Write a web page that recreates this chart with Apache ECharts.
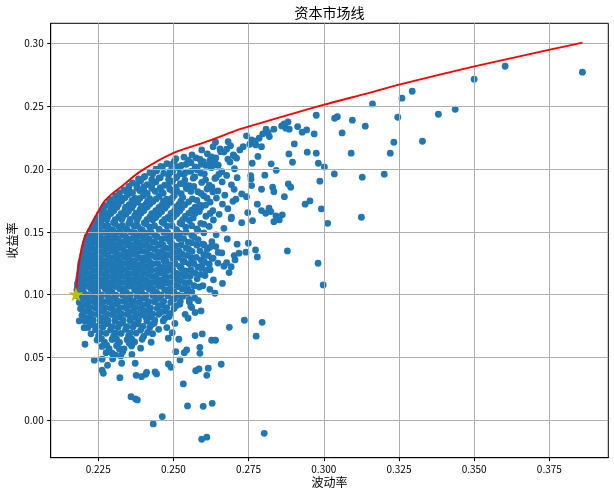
<!DOCTYPE html>
<html>
<head>
<meta charset="utf-8">
<script src="https://cdn.jsdelivr.net/npm/echarts@6/dist/echarts.min.js"></script>
<style>html,body{margin:0;padding:0;background:#fff}#c{width:614px;height:496px}</style>
</head>
<body>
<div id="c"></div>
<script>
// ---- data ----
const titleText = '资本市场线';
const xName = '波动率';
const yName = '收益率';
const xTicks = [0.225, 0.250, 0.275, 0.300, 0.325, 0.350, 0.375];
const yTicks = [0.00, 0.05, 0.10, 0.15, 0.20, 0.25, 0.30];

// efficient frontier (volatility, return)
const frontierVol = [0.2176,0.2178,0.2182,0.2188,0.2199,0.2217,0.2245,0.2270,0.2295,0.2330,0.2389,0.2499,0.2610,0.2721,0.2749,0.2998,0.3154,0.3247,0.3497,0.3752,0.3860];
const frontierRet = [0.1003,0.1064,0.1180,0.1276,0.1409,0.1515,0.1640,0.1740,0.1800,0.1865,0.1979,0.2126,0.2218,0.2317,0.2338,0.2510,0.2608,0.2670,0.2815,0.2950,0.3006];

// minimum-volatility portfolio (star)
const starVol = [0.2176];
const starRet = [0.1003];

// simulated portfolios: dense cloud, part A [vol, ret]
const denseCloudA = [
[0.2535,0.2095],[0.2562,0.2112],[0.2588,0.2078],[0.2613,0.2121],[0.2641,0.2088],[0.2668,0.2135],[0.2702,0.2104],[0.2655,0.2160],[0.2690,0.2185],
[0.2478,0.2043],[0.2503,0.2061],[0.2527,0.2029],[0.2558,0.2052],[0.2592,0.2037],[0.2621,0.2068],[0.2649,0.2031],[0.2688,0.2056],
[0.2442,0.1998],[0.2463,0.2015],[0.2489,0.1981],[0.2518,0.2007],[0.2541,0.1975],[0.2579,0.1994],[0.2626,0.2011],[0.2661,0.1979],[0.2703,0.2002],
[0.2405,0.1942],[0.2431,0.1961],[0.2452,0.1928],[0.2484,0.1953],[0.2509,0.1931],[0.2535,0.1958],[0.2571,0.1937],[0.2603,0.1962],[0.2638,0.1925],[0.2677,0.1949],[0.2712,0.1931],
[0.2364,0.1889],[0.2391,0.1905],[0.2413,0.1876],[0.2442,0.1898],[0.2471,0.1871],[0.2497,0.1902],[0.2523,0.1884],[0.2552,0.1868],[0.2594,0.1893],[0.2619,0.1871],[0.2662,0.1897],[0.2693,0.1874],
[0.2336,0.1834],[0.2353,0.1822],[0.2379,0.1851],[0.2402,0.1829],[0.2428,0.1846],[0.2461,0.1817],[0.2488,0.1839],[0.2512,0.1823],[0.2543,0.1844],[0.2581,0.1819],[0.2612,0.1841],[0.2648,0.1826],[0.2702,0.1838],
[0.2308,0.1786],[0.2324,0.1772],[0.2348,0.1796],[0.2371,0.1768],[0.2399,0.1788],[0.2421,0.1765],[0.2452,0.1782],[0.2478,0.1761],[0.2503,0.1790],[0.2531,0.1773],[0.2563,0.1762],[0.2601,0.1786],[0.2643,0.1769],[0.2671,0.1792],
[0.2288,0.1738],[0.2305,0.1722],[0.2328,0.1745],[0.2353,0.1716],[0.2381,0.1737],[0.2408,0.1719],[0.2432,0.1741],[0.2461,0.1713],[0.2489,0.1734],[0.2518,0.1718],[0.2551,0.1739],[0.2589,0.1712],[0.2622,0.1736],[0.2663,0.1721],[0.2698,0.1743],
[0.2268,0.1689],[0.2291,0.1672],[0.2312,0.1695],[0.2338,0.1668],[0.2362,0.1691],[0.2389,0.1674],[0.2413,0.1697],[0.2441,0.1669],[0.2472,0.1688],[0.2503,0.1664],[0.2528,0.1692],[0.2561,0.1673],[0.2592,0.1695],[0.2631,0.1668],[0.2681,0.1684],
[0.2254,0.1638],[0.2272,0.1621],[0.2292,0.1645],[0.2318,0.1619],[0.2342,0.1641],[0.2371,0.1626],[0.2393,0.1649],[0.2422,0.1618],[0.2451,0.1637],[0.2482,0.1615],[0.2511,0.1642],[0.2539,0.1622],[0.2572,0.1646],[0.2608,0.1624],[0.2652,0.1639],[0.2693,0.1617],
[0.2243,0.1591],[0.2258,0.1572],[0.2279,0.1596],[0.2301,0.1574],[0.2328,0.1598],[0.2352,0.1569],[0.2379,0.1592],[0.2403,0.1571],[0.2431,0.1596],[0.2462,0.1578],[0.2491,0.1599],[0.2522,0.1571],[0.2553,0.1591],[0.2591,0.1568],[0.2633,0.1594],
[0.2231,0.1538],[0.2248,0.1521],[0.2271,0.1545],[0.2293,0.1518],[0.2318,0.1542],[0.2341,0.1524],[0.2369,0.1547],[0.2392,0.1519],[0.2421,0.1539],[0.2452,0.1522],[0.2479,0.1546],[0.2509,0.1517],[0.2541,0.1538],[0.2578,0.1524],[0.2619,0.1543],[0.2668,0.1528],
[0.2220,0.1488],[0.2238,0.1471],[0.2262,0.1494],[0.2286,0.1469],[0.2309,0.1491],[0.2333,0.1473],[0.2359,0.1497],[0.2382,0.1468],[0.2411,0.1489],[0.2438,0.1472],[0.2468,0.1495],[0.2493,0.1467],[0.2522,0.1488],[0.2561,0.1471],[0.2601,0.1492],[0.2642,0.1476],
[0.2211,0.1439],[0.2234,0.1418],[0.2259,0.1443],[0.2281,0.1421],[0.2303,0.1445],[0.2329,0.1416],[0.2352,0.1439],[0.2378,0.1422],[0.2401,0.1446],[0.2432,0.1419],[0.2461,0.1441],[0.2488,0.1424],[0.2518,0.1447],[0.2549,0.1418],[0.2582,0.1438],[0.2628,0.1421],[0.2679,0.1443],
[0.2206,0.1388],[0.2229,0.1371],[0.2254,0.1394],[0.2277,0.1369],[0.2301,0.1391],[0.2324,0.1373],[0.2348,0.1396],[0.2372,0.1368],[0.2399,0.1392],[0.2422,0.1374],[0.2451,0.1397],[0.2479,0.1369],[0.2508,0.1389],[0.2542,0.1372],[0.2578,0.1394],[0.2621,0.1377],
[0.2201,0.1341],[0.2224,0.1319],[0.2248,0.1344],[0.2271,0.1322],[0.2296,0.1346],[0.2318,0.1318],[0.2342,0.1339],[0.2368,0.1323],[0.2391,0.1347],[0.2419,0.1321],[0.2448,0.1342],[0.2472,0.1317],[0.2501,0.1338],[0.2529,0.1324],[0.2562,0.1345],[0.2601,0.1319],[0.2649,0.1336],
[0.2196,0.1288],[0.2219,0.1271],[0.2243,0.1294],[0.2268,0.1268],[0.2291,0.1291],[0.2314,0.1273],[0.2339,0.1296],[0.2362,0.1269],[0.2389,0.1292],[0.2412,0.1274],[0.2441,0.1297],[0.2469,0.1268],[0.2498,0.1289],[0.2531,0.1272],[0.2559,0.1294],[0.2592,0.1276],[0.2632,0.1291],
[0.2191,0.1238],[0.2214,0.1221],[0.2239,0.1244],[0.2261,0.1218],[0.2286,0.1241],[0.2309,0.1223],[0.2331,0.1246],[0.2358,0.1219],[0.2381,0.1238],[0.2409,0.1222],[0.2432,0.1245],[0.2461,0.1217],[0.2489,0.1239],[0.2521,0.1224],[0.2552,0.1247],[0.2581,0.1221],[0.2619,0.1242],[0.2668,0.1226],
[0.2189,0.1188],[0.2211,0.1171],[0.2236,0.1193],[0.2258,0.1169],[0.2281,0.1191],[0.2306,0.1174],[0.2329,0.1196],[0.2352,0.1168],[0.2379,0.1189],[0.2402,0.1172],[0.2428,0.1194],[0.2459,0.1171],[0.2482,0.1192],[0.2511,0.1169],[0.2541,0.1189],[0.2572,0.1173],[0.2609,0.1195],
[0.2186,0.1138],[0.2209,0.1121],[0.2233,0.1143],[0.2256,0.1118],[0.2279,0.1141],[0.2303,0.1124],[0.2328,0.1146],[0.2354,0.1119],[0.2378,0.1139],[0.2401,0.1122],[0.2429,0.1144],[0.2451,0.1117],[0.2479,0.1138],[0.2512,0.1123],[0.2539,0.1145],[0.2579,0.1126],
[0.2181,0.1088],[0.2204,0.1071],[0.2229,0.1093],[0.2254,0.1068],[0.2278,0.1091],[0.2301,0.1073],[0.2326,0.1096],[0.2351,0.1069],[0.2374,0.1089],[0.2399,0.1072],[0.2424,0.1094],[0.2452,0.1068],[0.2478,0.1091],[0.2509,0.1074],[0.2538,0.1092],[0.2569,0.1071],
[0.2179,0.1036],[0.2201,0.1022],[0.2226,0.1044],[0.2249,0.1019],[0.2274,0.1041],[0.2296,0.1023],[0.2321,0.1046],[0.2344,0.1018],[0.2371,0.1039],[0.2394,0.1021],[0.2419,0.1043],[0.2444,0.1017],[0.2471,0.1038],[0.2502,0.1024],[0.2529,0.1045],[0.2561,0.1021],
[0.2183,0.0988],[0.2206,0.0972],[0.2231,0.0993],[0.2256,0.0969],[0.2281,0.0991],[0.2304,0.0974],[0.2331,0.0996],[0.2354,0.0968],[0.2379,0.0989],[0.2406,0.0972],[0.2431,0.0994],[0.2456,0.0971],[0.2481,0.0992],[0.2503,0.0968],[0.2532,0.0988],[0.2571,0.0973],
[0.2187,0.0938],[0.2211,0.0921],[0.2236,0.0943],[0.2261,0.0918],[0.2284,0.0941],[0.2309,0.0924],[0.2336,0.0946],[0.2359,0.0919],[0.2386,0.0939],[0.2411,0.0922],[0.2437,0.0944],[0.2462,0.0917],[0.2491,0.0938],[0.2521,0.0923],[0.2553,0.0941],
[0.2191,0.0888],[0.2216,0.0871],[0.2241,0.0893],[0.2266,0.0869],[0.2291,0.0891],[0.2316,0.0873],[0.2341,0.0896],[0.2366,0.0868],[0.2391,0.0889],[0.2417,0.0872],[0.2446,0.0891],[0.2471,0.0868],[0.2502,0.0889],
[0.2196,0.0836],[0.2221,0.0821],[0.2246,0.0843],[0.2271,0.0818],[0.2296,0.0841],[0.2321,0.0823],[0.2346,0.0844],[0.2371,0.0819],[0.2396,0.0839],[0.2422,0.0822],[0.2451,0.0843],[0.2486,0.0826],
[0.2206,0.0788],[0.2231,0.0771],[0.2256,0.0792],[0.2281,0.0769],[0.2306,0.0791],[0.2331,0.0773],[0.2356,0.0794],[0.2381,0.0768],[0.2412,0.0789],[0.2436,0.0772],[0.2466,0.0791],
[0.2216,0.0738],[0.2241,0.0721],[0.2266,0.0743],[0.2291,0.0719],[0.2316,0.0741],[0.2341,0.0723],[0.2366,0.0744],[0.2391,0.0718],[0.2421,0.0739],[0.2451,0.0724],
[0.2226,0.0688],[0.2251,0.0671],[0.2276,0.0692],[0.2301,0.0669],[0.2326,0.0691],[0.2351,0.0673],[0.2376,0.0694],[0.2401,0.0668],[0.2431,0.0689],
[0.2246,0.0638],[0.2271,0.0621],[0.2296,0.0643],[0.2321,0.0619],[0.2346,0.0641],[0.2371,0.0623],[0.2396,0.0644],[0.2426,0.0621],
[0.2262,0.0588],[0.2286,0.0571],[0.2311,0.0593],[0.2336,0.0569],[0.2361,0.0591],[0.2391,0.0574],
[0.2276,0.0538],[0.2306,0.0521],[0.2331,0.0543],[0.2362,0.0524],
[0.2598,0.1402],[0.2612,0.1361],[0.2641,0.1383],[0.2603,0.1312],[0.2628,0.1288],[0.2661,0.1332],[0.2597,0.1243],[0.2622,0.1198],[0.2648,0.1251],[0.2605,0.1152],[0.2633,0.1118],[0.2598,0.1071],[0.2621,0.1042],[0.2663,0.1089],[0.2685,0.1176],[0.2702,0.1311],[0.2712,0.1402],
[0.2594,0.2152],[0.2632,0.2178],[0.2640,0.2213],[0.2657,0.2138],[0.2677,0.2158],[0.2682,0.2218],[0.2699,0.2112],[0.2710,0.2086],[0.2721,0.2152],[0.2732,0.2178],[0.2599,0.2059],[0.2621,0.2033],[0.2644,0.2033],
[0.2478,0.0738],[0.2505,0.0771],[0.2539,0.0843],[0.2561,0.0897],[0.2583,0.0952],[0.2558,0.0905],[0.2572,0.0858],[0.2549,0.0812]
];

// simulated portfolios: dense cloud, part B (in-between points) [vol, ret]
const denseCloudB = [
[0.2508,0.2082],[0.2549,0.2071],[0.2575,0.2089],[0.2627,0.2096],[0.2681,0.2079],
[0.2458,0.2021],[0.2491,0.2034],[0.2514,0.2019],[0.2543,0.2038],[0.2572,0.2016],[0.2608,0.2029],[0.2638,0.2052],
[0.2422,0.1972],[0.2444,0.1985],[0.2468,0.1966],[0.2497,0.1979],[0.2522,0.1962],[0.2558,0.1981],[0.2591,0.1968],[0.2651,0.1958],
[0.2384,0.1921],[0.2402,0.1934],[0.2428,0.1915],[0.2456,0.1931],[0.2484,0.1918],[0.2511,0.1936],[0.2538,0.1912],[0.2566,0.1927],[0.2607,0.1914],[0.2642,0.1933],
[0.2352,0.1862],[0.2378,0.1875],[0.2401,0.1858],[0.2429,0.1877],[0.2456,0.1852],[0.2483,0.1871],[0.2509,0.1856],[0.2537,0.1879],[0.2568,0.1861],[0.2628,0.1856],
[0.2321,0.1809],[0.2341,0.1826],[0.2364,0.1811],[0.2388,0.1829],[0.2413,0.1805],[0.2439,0.1823],[0.2466,0.1808],[0.2497,0.1827],[0.2526,0.1804],[0.2558,0.1822],[0.2592,0.1806],[0.2631,0.1818],
[0.2294,0.1757],[0.2316,0.1749],[0.2339,0.1771],[0.2362,0.1748],[0.2388,0.1766],[0.2414,0.1744],[0.2443,0.1762],[0.2467,0.1747],[0.2496,0.1768],[0.2524,0.1742],[0.2578,0.1751],[0.2612,0.1768],
[0.2273,0.1708],[0.2294,0.1699],[0.2317,0.1718],[0.2341,0.1696],[0.2367,0.1714],[0.2394,0.1702],[0.2421,0.1719],[0.2452,0.1694],[0.2479,0.1712],[0.2508,0.1698],[0.2538,0.1716],[0.2572,0.1697],[0.2607,0.1713],
[0.2261,0.1662],[0.2279,0.1647],[0.2302,0.1668],[0.2326,0.1645],[0.2351,0.1664],[0.2376,0.1648],[0.2402,0.1669],[0.2428,0.1644],[0.2461,0.1662],[0.2492,0.1647],[0.2521,0.1666],[0.2551,0.1647],[0.2586,0.1661],[0.2622,0.1646],
[0.2247,0.1608],[0.2262,0.1598],[0.2281,0.1619],[0.2306,0.1596],[0.2331,0.1617],[0.2356,0.1599],[0.2384,0.1618],[0.2412,0.1597],[0.2441,0.1614],[0.2471,0.1598],[0.2501,0.1619],[0.2531,0.1596],[0.2566,0.1611],
[0.2238,0.1561],[0.2246,0.1541],[0.2259,0.1569],[0.2282,0.1547],[0.2306,0.1566],[0.2331,0.1549],[0.2356,0.1571],[0.2381,0.1546],[0.2409,0.1564],[0.2437,0.1549],[0.2468,0.1569],[0.2496,0.1548],[0.2528,0.1563],[0.2561,0.1549],[0.2601,0.1561],
[0.2224,0.1508],[0.2232,0.1496],[0.2253,0.1517],[0.2276,0.1495],[0.2298,0.1516],[0.2322,0.1499],[0.2346,0.1519],[0.2371,0.1494],[0.2397,0.1514],[0.2426,0.1498],[0.2453,0.1518],[0.2481,0.1496],[0.2511,0.1514],[0.2542,0.1497],[0.2581,0.1512],
[0.2213,0.1461],[0.2226,0.1447],[0.2248,0.1466],[0.2271,0.1444],[0.2294,0.1468],[0.2317,0.1446],[0.2341,0.1464],[0.2366,0.1449],[0.2391,0.1469],[0.2419,0.1444],[0.2446,0.1463],[0.2476,0.1448],[0.2503,0.1468],[0.2534,0.1446],[0.2568,0.1462],
[0.2207,0.1412],[0.2221,0.1396],[0.2243,0.1417],[0.2266,0.1395],[0.2291,0.1416],[0.2314,0.1398],[0.2338,0.1419],[0.2361,0.1394],[0.2386,0.1413],[0.2411,0.1399],[0.2438,0.1418],[0.2466,0.1394],[0.2494,0.1412],[0.2526,0.1397],[0.2561,0.1414],[0.2602,0.1396],
[0.2203,0.1362],[0.2216,0.1348],[0.2238,0.1366],[0.2261,0.1345],[0.2286,0.1368],[0.2309,0.1346],[0.2333,0.1364],[0.2356,0.1348],[0.2381,0.1369],[0.2408,0.1344],[0.2436,0.1363],[0.2463,0.1347],[0.2491,0.1367],[0.2519,0.1346],[0.2551,0.1362],[0.2588,0.1349],
[0.2198,0.1312],[0.2211,0.1297],[0.2233,0.1316],[0.2256,0.1295],[0.2281,0.1318],[0.2303,0.1296],[0.2327,0.1314],[0.2352,0.1298],[0.2376,0.1319],[0.2401,0.1294],[0.2428,0.1313],[0.2456,0.1298],[0.2483,0.1317],[0.2514,0.1296],[0.2546,0.1312],[0.2576,0.1297],[0.2616,0.1311],
[0.2193,0.1262],[0.2206,0.1248],[0.2229,0.1266],[0.2252,0.1245],[0.2276,0.1268],[0.2298,0.1246],[0.2321,0.1264],[0.2346,0.1248],[0.2371,0.1269],[0.2396,0.1244],[0.2421,0.1263],[0.2448,0.1247],[0.2476,0.1267],[0.2506,0.1246],[0.2536,0.1262],[0.2568,0.1248],[0.2603,0.1263],
[0.2190,0.1212],[0.2201,0.1197],[0.2226,0.1216],[0.2249,0.1195],[0.2272,0.1218],[0.2296,0.1196],[0.2319,0.1214],[0.2343,0.1198],[0.2368,0.1219],[0.2392,0.1194],[0.2418,0.1213],[0.2446,0.1197],[0.2471,0.1217],[0.2498,0.1196],[0.2526,0.1212],[0.2558,0.1198],[0.2592,0.1213],
[0.2187,0.1162],[0.2199,0.1148],[0.2222,0.1166],[0.2246,0.1145],[0.2269,0.1168],[0.2292,0.1146],[0.2317,0.1164],[0.2341,0.1148],[0.2366,0.1169],[0.2391,0.1144],[0.2416,0.1163],[0.2441,0.1147],[0.2468,0.1167],[0.2496,0.1146],[0.2526,0.1162],[0.2556,0.1148],[0.2591,0.1161],
[0.2184,0.1112],[0.2196,0.1097],[0.2219,0.1116],[0.2241,0.1095],[0.2266,0.1118],[0.2291,0.1096],[0.2314,0.1114],[0.2338,0.1098],[0.2363,0.1119],[0.2387,0.1094],[0.2411,0.1113],[0.2438,0.1097],[0.2466,0.1117],[0.2493,0.1096],[0.2523,0.1112],[0.2553,0.1098],
[0.2181,0.1062],[0.2192,0.1048],[0.2216,0.1066],[0.2238,0.1045],[0.2262,0.1068],[0.2286,0.1046],[0.2311,0.1064],[0.2334,0.1048],[0.2358,0.1069],[0.2384,0.1044],[0.2408,0.1063],[0.2432,0.1047],[0.2461,0.1067],[0.2489,0.1046],[0.2518,0.1062],[0.2548,0.1048],[0.2586,0.1061],
[0.2191,0.1012],[0.2214,0.0998],[0.2238,0.1016],[0.2261,0.0995],[0.2286,0.1018],[0.2309,0.0996],[0.2333,0.1014],[0.2357,0.0998],[0.2383,0.1019],[0.2408,0.0994],[0.2433,0.1013],[0.2459,0.0997],[0.2486,0.1017],[0.2516,0.0996],[0.2546,0.1012],
[0.2196,0.0962],[0.2219,0.0948],[0.2243,0.0966],[0.2268,0.0945],[0.2293,0.0968],[0.2318,0.0946],[0.2342,0.0964],[0.2367,0.0948],[0.2393,0.0969],[0.2418,0.0944],[0.2443,0.0963],[0.2468,0.0947],[0.2496,0.0967],[0.2523,0.0946],[0.2553,0.0962],
[0.2199,0.0912],[0.2223,0.0898],[0.2248,0.0916],[0.2273,0.0895],[0.2298,0.0918],[0.2323,0.0896],[0.2348,0.0914],[0.2373,0.0898],[0.2398,0.0919],[0.2424,0.0894],[0.2452,0.0913],[0.2478,0.0897],[0.2509,0.0912],
[0.2203,0.0862],[0.2228,0.0848],[0.2253,0.0866],[0.2278,0.0845],[0.2303,0.0868],[0.2328,0.0846],[0.2353,0.0864],[0.2378,0.0848],[0.2404,0.0869],[0.2431,0.0846],[0.2458,0.0862],[0.2489,0.0851],
[0.2209,0.0812],[0.2233,0.0798],[0.2258,0.0816],[0.2283,0.0795],[0.2308,0.0818],[0.2333,0.0796],[0.2358,0.0814],[0.2384,0.0798],[0.2409,0.0819],[0.2438,0.0797],[0.2471,0.0811],
[0.2228,0.0762],[0.2246,0.0748],[0.2271,0.0766],[0.2296,0.0745],[0.2321,0.0768],[0.2346,0.0746],[0.2371,0.0764],[0.2398,0.0747],[0.2428,0.0762],
[0.2258,0.0698],[0.2308,0.0695],[0.2358,0.0696],[0.2414,0.0699],
[0.2261,0.0648],[0.2311,0.0645],[0.2362,0.0646],
[0.2278,0.0598],[0.2353,0.0614],
[0.2321,0.0566]
];

// simulated portfolios: sparse outer points [vol, ret]
const outerPoints = [
[0.3162,0.2518],[0.3260,0.2564],[0.3294,0.2619],[0.3500,0.2715],[0.3603,0.2818],[0.3860,0.2771],[0.3246,0.2412],[0.3381,0.2436],[0.3437,0.2476],[0.3233,0.2213],[0.3328,0.2221],[0.3221,0.2126],[0.3201,0.1959],
[0.2975,0.2428],[0.3036,0.2404],[0.3045,0.2417],[0.3095,0.2389],[0.3138,0.2341],[0.3061,0.2287],[0.2968,0.2279],[0.2943,0.2311],[0.2928,0.2293],[0.2913,0.2338],
[0.2881,0.2375],[0.2860,0.2343],[0.2885,0.2317],[0.2874,0.2325],[0.2868,0.2359],
[0.2834,0.2317],[0.2815,0.2290],[0.2808,0.2317],[0.2819,0.2258],[0.2797,0.2279],
[0.2785,0.2245],[0.2771,0.2221],[0.2760,0.2232],[0.2774,0.2192],[0.2793,0.2178],[0.2754,0.2197],[0.2743,0.2264],
[0.2902,0.2200],[0.2884,0.2120],[0.2896,0.2054],[0.2945,0.2134],[0.2975,0.2126],[0.2982,0.2046],[0.3002,0.2017],[0.3035,0.1961],[0.3091,0.2126],[0.3128,0.1935],[0.2987,0.1903],
[0.2781,0.2100],[0.2762,0.2046],[0.2825,0.2041],[0.2842,0.1990],[0.2804,0.1951],[0.2757,0.1948],[0.2758,0.1921],[0.2760,0.1868],[0.2793,0.1839],[0.2830,0.1855],[0.2834,0.1820],[0.2882,0.1881],[0.2890,0.1855],[0.2869,0.1780],[0.2743,0.1780],[0.2708,0.1760],[0.2727,0.1802],[0.2779,0.1720],
[0.2793,0.1669],[0.2818,0.1688],[0.2824,0.1661],[0.2807,0.1648],[0.2841,0.1627],[0.2862,0.1635],[0.2852,0.1595],[0.2834,0.1581],
[0.2938,0.1720],[0.2954,0.1746],[0.2992,0.1682],[0.3013,0.1568],[0.3125,0.1616],
[0.2747,0.1653],[0.2763,0.1589],[0.2727,0.1573],[0.2692,0.1605],
[0.2749,0.1409],[0.2741,0.1338],[0.2773,0.1356],[0.2779,0.1300],[0.2718,0.1330],[0.2705,0.1276],[0.2677,0.1255],[0.2692,0.1223],
[0.2879,0.1348],[0.2981,0.1250],[0.2998,0.1077],[0.2638,0.1011],
[0.2592,0.0870],[0.2736,0.0796],[0.2795,0.0780],[0.2686,0.0740],[0.2775,0.0669],[0.2596,0.0687],[0.2627,0.0637],[0.2640,0.0637],[0.2588,0.0581],[0.2588,0.0533],[0.2659,0.0446],[0.2616,0.0414],[0.2611,0.0358],[0.2629,0.0135],[0.2599,0.0111],[0.2802,-0.0104],[0.2611,-0.0135],[0.2594,-0.0151],
[0.2187,0.0791],[0.2203,0.0737],[0.2222,0.0777],[0.2230,0.0793],[0.2206,0.0605],
[0.2237,0.0478],[0.2263,0.0486],[0.2281,0.0438],[0.2263,0.0398],[0.2267,0.0374],
[0.2295,0.0536],[0.2298,0.0488],[0.2325,0.0512],[0.2328,0.0454],[0.2322,0.0339],
[0.2373,0.0454],[0.2376,0.0358],[0.2394,0.0347],[0.2408,0.0366],[0.2411,0.0382],[0.2439,0.0385],[0.2444,0.0369],
[0.2359,0.0188],[0.2380,0.0162],[0.2374,0.0170],[0.2433,-0.0029],[0.2463,0.0029],
[0.2483,0.0448],[0.2492,0.0422],[0.2483,0.0653],[0.2518,0.0645],[0.2496,0.0697],[0.2508,0.0546],[0.2522,0.0480],
[0.2533,0.0289],[0.2547,0.0114],[0.2544,0.0560],[0.2536,0.0538],[0.2574,0.0395],[0.2585,0.0408],[0.2572,0.0674]
];

// ---- chart ----
const FONT = '"Noto Sans CJK SC", sans-serif';
const chart = echarts.init(document.getElementById('c'), null, {renderer: 'canvas'});
const frontier = frontierVol.map((v, i) => [v, frontierRet[i]]);
const star = starVol.map((v, i) => [v, starRet[i]]);
const STAR = 'path://M50,0 L61.8,36.2 L100,36.2 L69.1,58.6 L80.9,95.1 L50,72.7 L19.1,95.1 L30.9,58.6 L0,36.2 L38.2,36.2 Z';

const axisCommon = {
  type: 'value',
  z: 2,
  axisLine: {show: true, onZero: false, lineStyle: {color: '#000', width: 1}},
  axisTick: {show: true, inside: false, length: 3.5, lineStyle: {color: '#000', width: 1}},
  splitLine: {show: true, lineStyle: {color: '#b0b0b0', width: 1}},
  nameLocation: 'middle',
  nameMoveOverlap: false,
  nameTextStyle: {fontFamily: FONT, fontSize: 12, color: '#000'}
};

chart.setOption({
  animation: false,
  backgroundColor: '#fff',
  grid: {left: 50.7, right: 5.7, top: 23.3, bottom: 38.3, outerBoundsMode: 'none', containLabel: false,
         show: true, borderColor: '#000', borderWidth: 1, backgroundColor: 'transparent'},
  graphic: [{
    type: 'text', x: 329.5, y: 13, z: 10,
    style: {text: titleText, fontFamily: FONT, fontSize: 14, fill: '#000', align: 'center', verticalAlign: 'middle'}
  }],
  xAxis: Object.assign({}, axisCommon, {
    min: 0.2092, max: 0.3946,
    name: xName, nameGap: 19,
    axisTick: Object.assign({}, axisCommon.axisTick, {customValues: xTicks}),
    axisLabel: {customValues: xTicks, formatter: v => v.toFixed(3), fontFamily: FONT, fontSize: 10, color: '#000', margin: 7}
  }),
  yAxis: Object.assign({}, axisCommon, {
    min: -0.0298, max: 0.3160,
    name: yName, nameGap: 32,
    axisTick: Object.assign({}, axisCommon.axisTick, {customValues: yTicks}),
    axisLabel: {customValues: yTicks, formatter: v => v.toFixed(2), fontFamily: FONT, fontSize: 10, color: '#000', margin: 7}
  }),
  series: [
    {type: 'scatter', z: 1, data: denseCloudA.concat(denseCloudB, outerPoints), symbol: 'circle', symbolSize: 6.8,
     itemStyle: {color: '#1f77b4', opacity: 1}, silent: true, large: false},
    {type: 'line', z: 3, data: frontier, showSymbol: false, symbol: 'none', smooth: 0.3,
     lineStyle: {color: '#ff0000', width: 1.9}, silent: true},
    {type: 'scatter', z: 4, data: star, symbol: STAR, symbolKeepAspect: true, symbolSize: 15,
     itemStyle: {color: '#bfbf00', opacity: 1}, silent: true}
  ]
});
</script>
</body>
</html>
